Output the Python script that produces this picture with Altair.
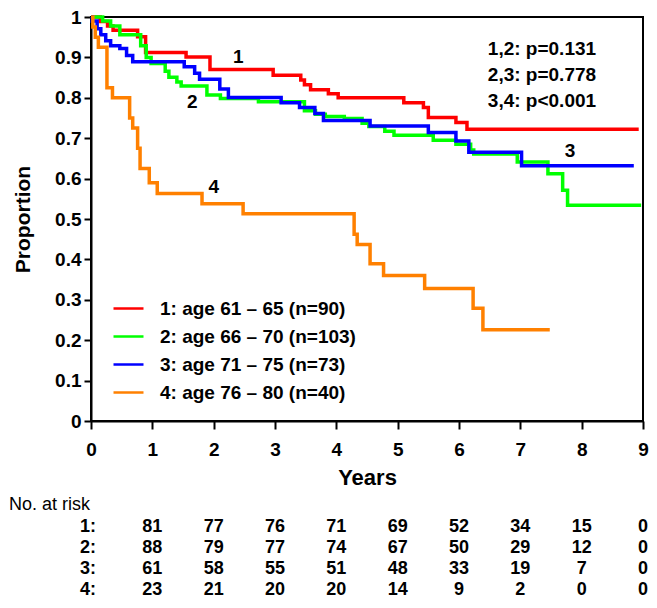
import altair as alt
import pandas as pd

# ---------------- data ----------------
groups = ["1: age 61 \u2013 65 (n=90)", "2: age 66 \u2013 70 (n=103)",
          "3: age 71 \u2013 75 (n=73)", "4: age 76 \u2013 80 (n=40)"]
colors = ["#FF0000", "#00FF00", "#0000FF", "#FF8000"]

t1 = [0, 0.15, 0.27, 0.36, 0.76, 0.89, 1.55, 1.94, 2.97, 3.42, 3.48, 3.58, 3.87, 4.03,
      5.10, 5.42, 5.50, 5.95, 6.13, 8.93]
s1 = [1.0, 0.989, 0.978, 0.967, 0.951, 0.912, 0.901, 0.870, 0.856, 0.844, 0.832, 0.820,
      0.810, 0.800, 0.788, 0.776, 0.751, 0.739, 0.722, 0.722]

t2 = [0, 0.19, 0.32, 0.47, 0.81, 0.90, 0.98, 1.21, 1.27, 1.40, 1.47, 1.89, 2.11, 2.73,
      3.48, 3.66, 3.82, 4.13, 4.42, 4.53, 4.79, 4.94, 5.58, 5.95, 6.19, 6.24, 6.95, 7.45,
      7.69, 7.77, 8.97]
s2 = [1.0, 0.990, 0.978, 0.956, 0.929, 0.900, 0.885, 0.866, 0.851, 0.839, 0.829, 0.807,
      0.798, 0.790, 0.768, 0.759, 0.754, 0.749, 0.737, 0.729, 0.717, 0.707, 0.695, 0.685,
      0.671, 0.661, 0.641, 0.612, 0.571, 0.534, 0.534]

t3 = [0, 0.02, 0.10, 0.16, 0.24, 0.32, 0.47, 0.58, 0.68, 1.52, 1.69, 1.77, 2.10, 2.24,
      3.10, 3.40, 3.65, 3.79, 4.55, 5.50, 5.95, 6.16, 7.02, 8.85]
s3 = [1.0, 0.990, 0.971, 0.956, 0.941, 0.929, 0.922, 0.905, 0.889, 0.877, 0.861, 0.846,
      0.822, 0.801, 0.788, 0.776, 0.761, 0.744, 0.730, 0.714, 0.693, 0.665, 0.632, 0.632]

t4 = [0, 0.03, 0.07, 0.12, 0.26, 0.35, 0.63, 0.68, 0.76, 0.80, 0.95, 1.08, 1.81, 2.48,
      4.29, 4.34, 4.55, 4.77, 5.44, 6.23, 6.39, 7.48]
s4 = [1.0, 0.975, 0.95, 0.925, 0.825, 0.80, 0.75, 0.725, 0.675, 0.625, 0.59, 0.563,
      0.538, 0.513, 0.462, 0.437, 0.389, 0.36, 0.328, 0.279, 0.226, 0.226]

curve_labels = ["1", "2", "3", "4"]
curve_label_x = [2.40, 1.65, 7.81, 2.00]
curve_label_y = [0.90, 0.79, 0.668, 0.578]

p_texts = ["1,2: p=0.131", "2,3: p=0.778", "3,4: p<0.001"]
p_x = [6.47, 6.47, 6.47]
p_y = [0.922, 0.856, 0.793]

risk_times = [1, 2, 3, 4, 5, 6, 7, 8, 9]
risk_rows = ["1:", "2:", "3:", "4:"]
risk1 = [81, 77, 76, 71, 69, 52, 34, 15, 0]
risk2 = [88, 79, 77, 74, 67, 50, 29, 12, 0]
risk3 = [61, 58, 55, 51, 48, 33, 19, 7, 0]
risk4 = [23, 21, 20, 20, 14, 9, 2, 0, 0]

x_ticks = [0, 1, 2, 3, 4, 5, 6, 7, 8, 9]
y_ticks = [0, 0.1, 0.2, 0.3, 0.4, 0.5, 0.6, 0.7, 0.8, 0.9, 1.0]

# ---------------- build tables ----------------
recs = []
for g, ts, ss in zip(groups, [t1, t2, t3, t4], [s1, s2, s3, s4]):
    for t, s in zip(ts, ss):
        recs.append({"group": g, "t": t, "s": s})
curves = pd.DataFrame(recs)

FONT = "Liberation Sans"
xs = alt.Scale(domain=[0, 9], nice=False, zero=False)
ys = alt.Scale(domain=[0, 1], nice=False)

x_axis = alt.Axis(values=x_ticks, format="d", title="Years", grid=False, labelFont=FONT,
                  labelFontSize=19, labelFontWeight="bold", labelColor="black",
                  labelPadding=11, tickSize=8, tickWidth=2, tickColor="black",
                  domainColor="black", domainWidth=2, titleFont=FONT,
                  titleFontSize=22, titleFontWeight="bold", titleColor="black",
                  titleY=56, titleBaseline="middle", labelFlush=False)
y_axis = alt.Axis(values=y_ticks, format=".1~f", title="Proportion", grid=False,
                  labelFont=FONT, labelFontSize=19, labelFontWeight="bold",
                  labelColor="black", labelPadding=3, tickSize=7, tickWidth=2,
                  tickColor="black", domainColor="black", domainWidth=2,
                  titleFont=FONT, titleFontSize=21, titleFontWeight="bold",
                  titleColor="black", titleX=-68, titleY=202, titleBaseline="middle",
                  labelFlush=False)

lines = alt.Chart(curves).mark_line(interpolate="step-after", strokeWidth=3.5).encode(
    x=alt.X("t:Q", scale=xs, axis=x_axis),
    y=alt.Y("s:Q", scale=ys, axis=y_axis),
    color=alt.Color("group:N", scale=alt.Scale(domain=groups, range=colors),
                    legend=alt.Legend(orient="none", legendX=21, legendY=275, title=None,
                                      symbolType="stroke", symbolSize=900,
                                      symbolStrokeWidth=2.5, labelFont=FONT,
                                      labelFontSize=19, labelFontWeight="bold",
                                      labelColor="black", labelOffset=15,
                                      rowPadding=1, padding=0, labelLimit=400)),
    detail="group:N",
)

lab_df = pd.DataFrame({"label": curve_labels, "t": curve_label_x, "s": curve_label_y})
labels = alt.Chart(lab_df).mark_text(font=FONT, fontSize=19, fontWeight="bold",
                                     color="black", baseline="middle").encode(
    x=alt.X("t:Q", scale=xs), y=alt.Y("s:Q", scale=ys), text="label:N")

p_df = pd.DataFrame({"label": p_texts, "t": p_x, "s": p_y})
pvals = alt.Chart(p_df).mark_text(font=FONT, fontSize=19, fontWeight="bold",
                                  color="black", align="left", baseline="middle").encode(
    x=alt.X("t:Q", scale=xs), y=alt.Y("s:Q", scale=ys), text="label:N")

layers = [lines, labels, pvals]

head = alt.Chart(pd.DataFrame({"label": ["No. at risk"]})).mark_text(
    font=FONT, fontSize=18, fontWeight="normal", color="black", align="left",
    baseline="middle").encode(x=alt.value(-82), y=alt.value(488), text="label:N")
layers.append(head)

row_y = [510, 531, 552, 573]
for name, vals, py in zip(risk_rows, [risk1, risk2, risk3, risk4], row_y):
    rdf = pd.DataFrame({"t": risk_times, "n": [str(v) for v in vals]})
    layers.append(alt.Chart(rdf).mark_text(font=FONT, fontSize=18, fontWeight="bold",
                                           color="black", baseline="middle").encode(
        x=alt.X("t:Q", scale=xs), y=alt.value(py), text="n:N"))
    layers.append(alt.Chart(pd.DataFrame({"label": [name]})).mark_text(
        font=FONT, fontSize=18, fontWeight="bold", color="black", align="right",
        baseline="middle").encode(x=alt.value(5), y=alt.value(py), text="label:N"))

chart = alt.layer(*layers).properties(
    width=552, height=404,
    padding={"left": 83, "top": 9, "right": 6, "bottom": 178},
    autosize=alt.AutoSizeParams(type="none"),
    background="white",
).configure_view(stroke="black", strokeWidth=2)

chart.save("out.html", embed_options={"renderer": "svg", "actions": False})
